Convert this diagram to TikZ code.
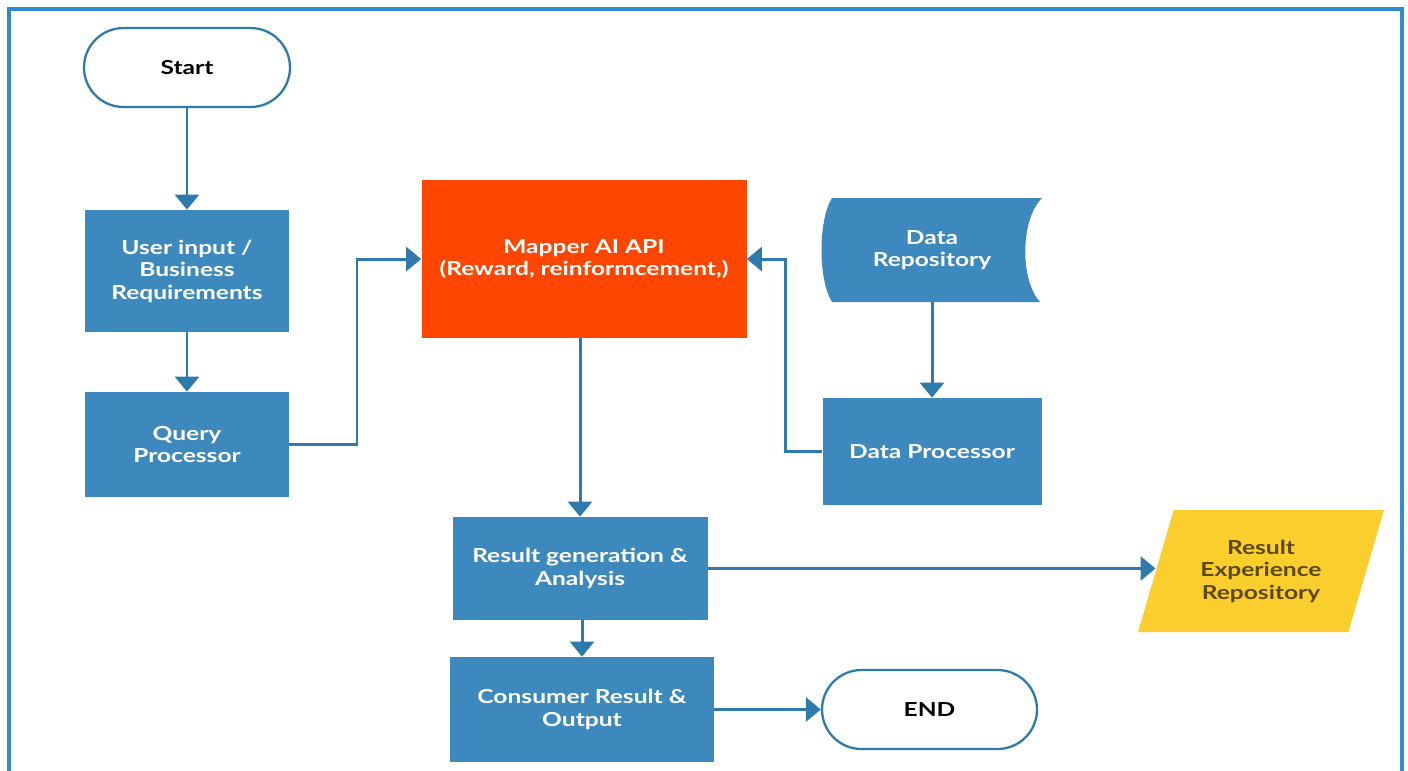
\documentclass[tikz,border=0pt]{standalone}
\usepackage{fontspec}
\setmainfont{Lato}[FakeStretch=1.27]
\usetikzlibrary{arrows.meta,shapes.geometric}

\definecolor{boxblue}{RGB}{61,137,189}
\definecolor{lineblue}{RGB}{47,122,172}
\definecolor{frameblue}{RGB}{45,140,214}
\definecolor{mapperorange}{RGB}{254,70,0}
\definecolor{repoyellow}{RGB}{250,206,45}
\definecolor{repotext}{RGB}{92,74,20}

\tikzset{
  flow/.style={draw=lineblue, line width=1.7pt, -{Triangle[width=4.8mm,length=3mm]}},
  procbox/.style={rectangle, fill=boxblue, text=white, align=center,
    font=\fontsize{11}{12.8}\selectfont\bfseries, inner sep=2pt},
  terminal/.style={rectangle, rounded corners=7.9mm, draw=lineblue, line width=1.3pt,
    fill=white, minimum height=15.8mm, font=\fontsize{11}{12.8}\selectfont\bfseries},
}

\begin{document}
\begin{tikzpicture}[x=0.2mm, y=-0.2mm]

  \clip (0,0) rectangle (1408,770);
  \draw[frameblue, line width=1.9pt] (9,790) -- (9,9) -- (1402,9) -- (1402,790);

  \node[terminal, minimum width=41.2mm] (start) at (187,67.5) {Start};
  \node[procbox, minimum width=40.6mm, minimum height=24.4mm] (userin) at (187,271)
    {User input /\\Business\\Requirements};
  \node[procbox, minimum width=40.6mm, minimum height=21mm] (query) at (187,444.5)
    {Query\\Processor};

  \node[procbox, fill=mapperorange, minimum width=65mm, minimum height=31.6mm] (mapper) at (584,259)
    {Mapper AI API\\(Reward, reinformcement,)};

  \fill[boxblue] (832,198) -- (1042,198) .. controls (1020,220) and (1020,280) .. (1040,302)
    -- (832,302) .. controls (818,280) and (818,220) .. (832,198);
  \node[procbox, fill=none, minimum width=44mm, minimum height=20.8mm] (datarepo) at (932,250)
    {Data\\Repository};
  \node[procbox, minimum width=43.8mm, minimum height=21.4mm] (dataproc) at (932,451.5)
    {Data Processor};

  \node[procbox, minimum width=51mm, minimum height=20.6mm] (resultgen) at (580,568.5)
    {Result generation \&\\Analysis};
  \node[trapezium, trapezium left angle=70, trapezium right angle=110, trapezium stretches=true,
    fill=repoyellow, text=repotext, align=center, font=\fontsize{11}{12.8}\selectfont\bfseries,
    minimum width=49.2mm, minimum height=24.4mm] (resultexp) at (1261,571)
    {Result\\Experience\\Repository};

  \node[procbox, minimum width=52.8mm, minimum height=21mm] (consumer) at (582,709.5)
    {Consumer Result \&\\Output};
  \node[terminal, minimum width=43mm] (endnode) at (929.5,709.5) {END};

  \coordinate (qbend) at (357,444.5);
  \coordinate (dpbend) at (785,451.5);

  \draw[flow] (start) -- (userin);
  \draw[flow] (userin) -- (query);
  \draw[flow] (query.east) -- (qbend) |- (mapper.west);
  \draw[flow] (datarepo) -- (dataproc);
  \draw[flow] (dataproc.west) -- (dpbend) |- (mapper.east);
  \draw[flow] (mapper.south -| resultgen.north) -- (resultgen.north);
  \draw[flow] (resultgen.east) -- (resultgen.east -| resultexp.west);
  \draw[flow] (resultgen.south -| consumer.north) -- (consumer.north);
  \draw[flow] (consumer.east) -- (endnode.west);

\end{tikzpicture}
\end{document}
